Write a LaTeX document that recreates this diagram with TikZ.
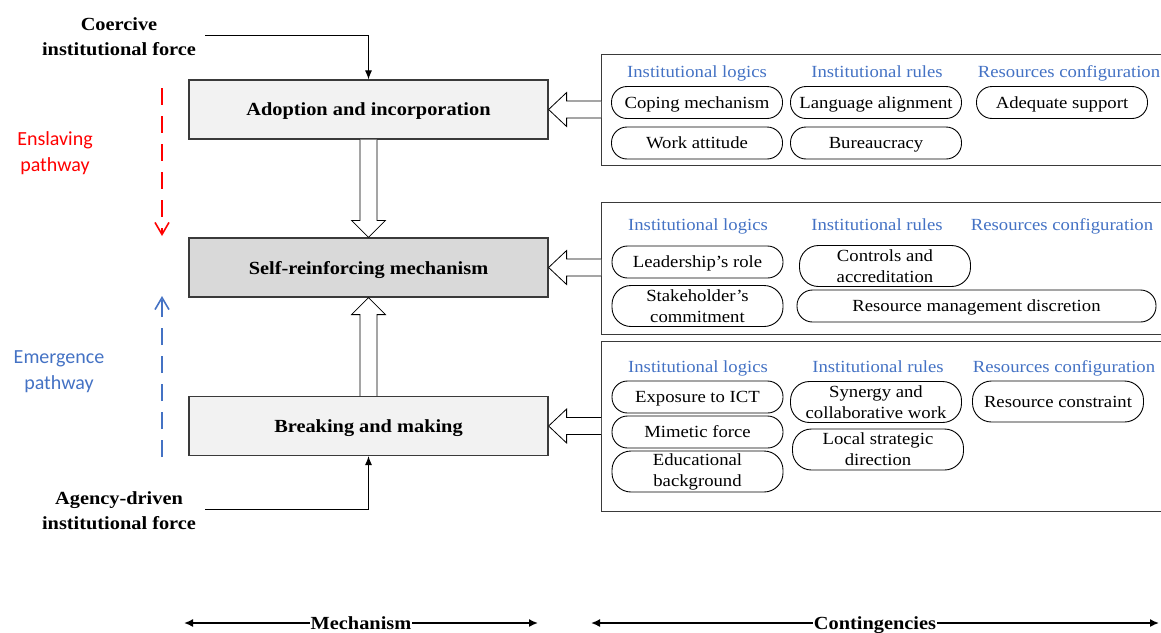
\documentclass[tikz,border=0pt]{standalone}
\usepackage{fontspec}
\setmainfont[FakeStretch=1.1]{Liberation Serif}
\newfontfamily\pathfont{Carlito}
\usetikzlibrary{arrows.meta,calc}
\definecolor{hdrblue}{HTML}{4472C4}
\definecolor{edgegray}{HTML}{3A3A3A}
\definecolor{boxlight}{HTML}{F2F2F2}
\definecolor{boxmid}{HTML}{D9D9D9}
\definecolor{pathred}{HTML}{FF0000}

\begin{document}
\begin{tikzpicture}[x=1pt,y=-1pt,
  mainbox/.style={draw=edgegray, line width=1.2pt, minimum width=359pt, minimum height=59pt,
    inner sep=0pt, text depth=0pt, font=\fontsize{18.5}{22}\selectfont\bfseries},
  ctgbox/.style={draw=edgegray, line width=1pt, anchor=north west, minimum width=580pt, inner sep=0pt},
  hdr/.style={text=hdrblue, inner sep=0pt, text depth=0pt, font=\fontsize{17}{20}\selectfont},
  pillbase/.style={draw=black, line width=0.9pt, rounded corners=15.5pt, align=center, inner sep=0pt,
    minimum width=171pt, minimum height=32pt, font=\fontsize{17}{21}\selectfont},
  pill/.style={pillbase, text depth=0pt},
  pilltall/.style={pillbase, minimum height=41pt, rounded corners=19pt},
  force/.style={align=center, inner sep=0pt, font=\fontsize{18.5}{25}\selectfont\bfseries},
  forcearrow/.style={line width=0.9pt, -{Latex[length=9pt,width=7pt]}},
  hollow/.style={draw=black, line width=0.8pt, fill=white, line join=miter},
  pathlbl/.style={align=center, inner sep=0pt, font=\pathfont\fontsize{20}{26}\selectfont},
  pathway/.style={line width=1.6pt, dash pattern=on 17pt off 11pt,
    -{Straight Barb[length=12pt,width=14pt,line width=1.6pt]}},
  span/.style={line width=1.6pt, {Latex[length=9pt,width=8pt]}-{Latex[length=9pt,width=8pt]}},
  spanlbl/.style={fill=white, inner sep=1pt, text height=12.5pt, text depth=0pt,
    font=\fontsize{18.5}{22}\selectfont\bfseries}
]
\useasboundingbox (0,0) rectangle (1161,632);

% mechanism column
\node[mainbox, fill=boxlight] (adopt) at (368.5,109.5) {Adoption and incorporation};
\node[mainbox, fill=boxmid]   (self)  at (368.5,267.5) {Self-reinforcing mechanism};
\node[mainbox, fill=boxlight] (brk)   at (368.5,426)   {Breaking and making};

% institutional forces
\node[force] (coer) at (119,36.5) {Coercive\\institutional force};
\node[force] (agen) at (119,511)  {Agency-driven\\institutional force};
\draw[forcearrow] ([shift={(9pt,1.5pt)}]coer.east) -| (adopt.north);
\draw[forcearrow] ([shift={(9pt,2pt)}]agen.east) -| (brk.south);

% pathways
\node[pathlbl, text=pathred] (enslbl) at (55,153) {Enslaving\\pathway};
\node[pathlbl, text=hdrblue] (emglbl) at (59,372) {Emergence\\pathway};
\coordinate (ensA) at (162,88);
\coordinate (ensB) at (162,236);
\coordinate (emgA) at (162,457);
\coordinate (emgB) at (162,296);
\draw[pathway, pathred] (ensA) -- (ensB);
\draw[pathway, hdrblue] (emgA) -- (emgB);

% hollow arrows between mechanism stages
\draw[hollow] ([xshift=-8.5pt]adopt.south) -- ([shift={(-8.5pt,17pt)}]self.north)
  -- ([shift={(-17pt,17pt)}]self.north) -- (self.north) -- ([shift={(17pt,17pt)}]self.north)
  -- ([shift={(8.5pt,17pt)}]self.north) -- ([xshift=8.5pt]adopt.south);
\draw[hollow] ([xshift=-8.5pt]brk.north) -- ([shift={(-8.5pt,-17pt)}]self.south)
  -- ([shift={(-17pt,-17pt)}]self.south) -- (self.south) -- ([shift={(17pt,-17pt)}]self.south)
  -- ([shift={(8.5pt,-17pt)}]self.south) -- ([xshift=8.5pt]brk.north);

% contingency panels
\node[ctgbox, minimum height=111pt] (c1) at (601,54) {};
\node[ctgbox, minimum height=132pt] (c2) at (601,202) {};
\node[ctgbox, minimum height=170pt] (c3) at (601,341) {};

% hollow arrows from panels to stages
\coordinate (h1) at (c1.west |- adopt.east);
\coordinate (h2) at (c2.west |- self.east);
\coordinate (h3) at (c3.west |- brk.east);
\draw[hollow] ([yshift=8.5pt]h1) -- ([shift={(18pt,8.5pt)}]adopt.east) -- ([shift={(18pt,17pt)}]adopt.east)
  -- (adopt.east) -- ([shift={(18pt,-17pt)}]adopt.east) -- ([shift={(18pt,-8.5pt)}]adopt.east) -- ([yshift=-8.5pt]h1);
\draw[hollow] ([yshift=8.5pt]h2) -- ([shift={(18pt,8.5pt)}]self.east) -- ([shift={(18pt,17pt)}]self.east)
  -- (self.east) -- ([shift={(18pt,-17pt)}]self.east) -- ([shift={(18pt,-8.5pt)}]self.east) -- ([yshift=-8.5pt]h2);
\draw[hollow] ([yshift=8.5pt]h3) -- ([shift={(18pt,8.5pt)}]brk.east) -- ([shift={(18pt,17pt)}]brk.east)
  -- (brk.east) -- ([shift={(18pt,-17pt)}]brk.east) -- ([shift={(18pt,-8.5pt)}]brk.east) -- ([yshift=-8.5pt]h3);

% panel 1
\node[hdr] (l1) at (697,72)  {Institutional logics};
\node[hdr] (r1) at (877,72)  {Institutional rules};
\node[hdr] (s1) at (1069,72) {Resources configuration};
\node[pill] (cope)   at (697,102.5) {Coping mechanism};
\node[pill] (lang)   at (876,102.5) {Language alignment};
\node[pill] (adeq)   at (1062,102.5) {Adequate support};
\node[pill] (work)   at (697,143) {Work attitude};
\node[pill] (bureau) at (876,143) {Bureaucracy};

% panel 2
\node[hdr] (l2) at (698,225)  {Institutional logics};
\node[hdr] (r2) at (877,225)  {Institutional rules};
\node[hdr] (s2) at (1062,225) {Resources configuration};
\node[pill]     (lead)  at (697.5,262) {Leadership’s role};
\node[pilltall] (ctrl)  at (885,266)   {Controls and\\accreditation};
\node[pilltall] (stake) at (697.5,306) {Stakeholder’s\\commitment};
\node[pill, minimum width=359pt] (resm) at (976.5,306) {Resource management discretion};

% panel 3
\node[hdr] (l3) at (698,367)  {Institutional logics};
\node[hdr] (r3) at (878,367)  {Institutional rules};
\node[hdr] (s3) at (1064,367) {Resources configuration};
\node[pill]     (expo)  at (697.5,397)   {Exposure to ICT};
\node[pill]     (mim)   at (697.5,432)   {Mimetic force};
\node[pilltall] (edu)   at (697.5,471.5) {Educational\\background};
\node[pilltall] (syn)   at (876,402)     {Synergy and\\collaborative work};
\node[pilltall] (local) at (878,449.5)   {Local strategic\\direction};
\node[pilltall, text depth=0pt] (rcon) at (1058,401.5) {Resource constraint};

% spans along the bottom
\coordinate (mechL) at (184,623);
\coordinate (mechR) at (538,623);
\coordinate (ctgL)  at (591,623);
\coordinate (ctgR)  at (1159,623);
\draw[span] (mechL) -- (mechR) node[spanlbl, midway] (mechlbl) {Mechanism};
\draw[span] (ctgL) -- (ctgR) node[spanlbl, midway] (ctglbl) {Contingencies};
\end{tikzpicture}
\end{document}
